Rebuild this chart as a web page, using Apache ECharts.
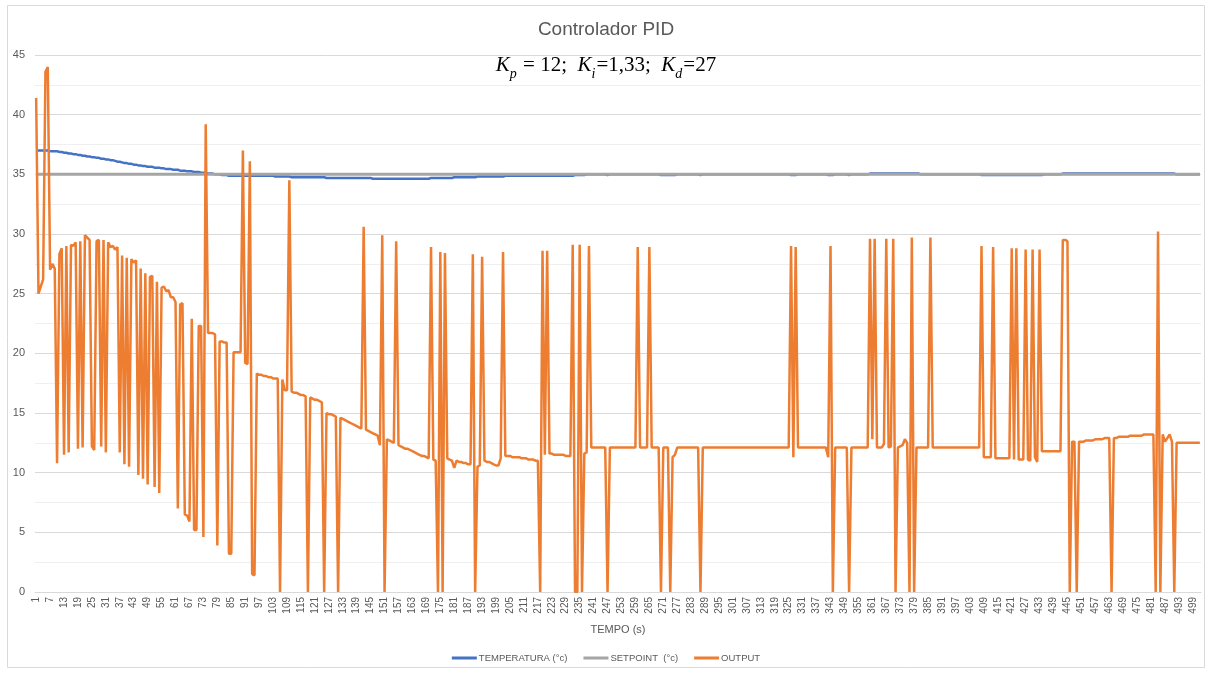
<!DOCTYPE html>
<html>
<head>
<meta charset="utf-8">
<script src="https://cdn.jsdelivr.net/npm/echarts@6/dist/echarts.min.js"></script>
<style>
  html, body { margin: 0; padding: 0; background: #fff; }
  #container { width: 1212px; height: 673px; }
</style>
</head>
<body>
<div id="container"></div>
<script>
// OUTPUT do controlador, um valor por segundo (10 por linha)
var OUTPUT = [
  41.4, 25.0, 25.6, 26.2, 43.6, 44.0, 27.0, 27.5, 27.1, 10.8,
  28.3, 28.8, 11.5, 29.0, 11.7, 29.1, 29.0, 29.3, 12.0, 29.4,
  12.1, 29.9, 29.7, 29.5, 12.2, 11.9, 29.4, 29.5, 12.2, 29.5,
  11.7, 29.3, 28.9, 29.0, 28.7, 28.9, 11.7, 28.2, 10.7, 28.0,
  10.5, 27.9, 27.6, 27.8, 9.8, 27.1, 9.5, 26.7, 9.0, 26.4,
  26.5, 8.8, 26.0, 8.3, 25.5, 25.6, 25.2, 25.3, 24.7, 24.7,
  24.3, 7.0, 24.1, 24.2, 6.5, 6.4, 5.9, 22.9, 5.2, 5.2,
  22.3, 22.3, 4.6, 39.2, 21.7, 21.7, 21.7, 21.6, 3.9, 21.0,
  21.0, 20.9, 20.9, 3.2, 3.2, 20.1, 20.1, 20.1, 20.1, 37.0,
  19.2, 19.1, 36.1, 1.5, 1.4, 18.3, 18.2, 18.2, 18.1, 18.1,
  18.0, 18.0, 17.9, 17.9, 17.9, 0, 17.8, 16.9, 16.9, 34.5,
  16.8, 16.7, 16.7, 16.6, 16.5, 16.5, 16.4, 0, 16.3, 16.2,
  16.1, 16.1, 16.0, 15.9, 0, 15.0, 14.9, 14.9, 14.8, 14.7,
  0, 14.6, 14.5, 14.4, 14.3, 14.2, 14.1, 14.0, 13.9, 13.8,
  13.7, 30.6, 13.6, 13.5, 13.4, 13.3, 13.2, 13.1, 12.3, 29.9,
  0, 12.8, 12.7, 12.6, 12.5, 29.4, 12.3, 12.2, 12.1, 12.0,
  12.0, 11.9, 11.8, 11.7, 11.6, 11.5, 11.4, 11.4, 11.3, 11.2,
  28.9, 11.1, 11.0, 0, 28.5, 0, 28.4, 11.2, 11.1, 11.0,
  10.4, 11.0, 10.9, 10.9, 10.8, 10.8, 10.7, 10.7, 28.3, 0,
  10.5, 10.6, 28.1, 11.0, 10.9, 10.9, 10.8, 10.7, 10.6, 10.6,
  11.2, 28.5, 11.4, 11.4, 11.4, 11.3, 11.3, 11.3, 11.3, 11.2,
  11.2, 11.2, 11.1, 11.1, 11.1, 11.0, 11.0, 0, 28.6, 11.5,
  28.6, 11.6, 11.6, 11.5, 11.5, 11.5, 11.5, 11.5, 11.4, 11.4,
  11.4, 29.1, 0, 0, 29.1, 0, 11.6, 11.7, 29.0, 12.1,
  12.1, 12.1, 12.1, 12.1, 12.1, 12.1, 0, 12.1, 12.1, 12.1,
  12.1, 12.1, 12.1, 12.1, 12.1, 12.1, 12.1, 12.1, 12.1, 28.9,
  12.1, 12.1, 12.1, 12.1, 28.9, 12.1, 12.1, 12.1, 12.1, 0,
  12.1, 12.1, 12.1, 0, 11.3, 11.5, 12.1, 12.1, 12.1, 12.1,
  12.1, 12.1, 12.1, 12.1, 12.1, 12.1, 0, 12.1, 12.1, 12.1,
  12.1, 12.1, 12.1, 12.1, 12.1, 12.1, 12.1, 12.1, 12.1, 12.1,
  12.1, 12.1, 12.1, 12.1, 12.1, 12.1, 12.1, 12.1, 12.1, 12.1,
  12.1, 12.1, 12.1, 12.1, 12.1, 12.1, 12.1, 12.1, 12.1, 12.1,
  12.1, 12.1, 12.1, 12.1, 12.1, 29.0, 11.3, 28.9, 12.1, 12.1,
  12.1, 12.1, 12.1, 12.1, 12.1, 12.1, 12.1, 12.1, 12.1, 12.1,
  12.1, 11.3, 29.0, 0, 12.1, 12.1, 12.1, 12.1, 12.1, 12.1,
  0, 12.1, 12.1, 12.1, 12.1, 12.1, 12.1, 12.1, 12.1, 29.6,
  12.8, 29.6, 12.1, 12.1, 12.1, 12.4, 29.6, 12.1, 12.2, 29.6,
  0, 12.1, 12.2, 12.3, 12.8, 12.5, 0, 29.7, 0, 12.1,
  12.1, 12.1, 12.1, 12.1, 12.1, 29.7, 12.1, 12.1, 12.1, 12.1,
  12.1, 12.1, 12.1, 12.1, 12.1, 12.1, 12.1, 12.1, 12.1, 12.1,
  12.1, 12.1, 12.1, 12.1, 12.1, 12.1, 12.1, 29.0, 11.3, 11.3,
  11.3, 11.3, 28.9, 11.2, 11.2, 11.2, 11.2, 11.2, 11.2, 11.2,
  28.8, 11.1, 28.8, 11.1, 11.1, 11.1, 28.7, 11.1, 11.0, 28.7,
  11.3, 10.9, 28.7, 11.8, 11.8, 11.8, 11.8, 11.8, 11.8, 11.8,
  11.8, 11.8, 29.5, 29.5, 29.4, 0, 12.6, 12.6, 0, 12.6,
  12.6, 12.6, 12.7, 12.7, 12.7, 12.7, 12.8, 12.8, 12.8, 12.8,
  12.9, 12.9, 12.9, 0, 12.9, 12.9, 13.0, 13.0, 13.0, 13.0,
  13.0, 13.1, 13.1, 13.1, 13.1, 13.1, 13.1, 13.2, 13.2, 13.2,
  13.2, 13.2, 0, 30.2, 0, 13.2, 12.6, 12.9, 13.2, 12.6,
  0, 12.5, 12.5, 12.5, 12.5, 12.5, 12.5, 12.5, 12.5, 12.5,
  12.5, 12.5
];

// TEMPERATURA (°c): leituras do sensor em patamares [valor, quantos segundos]
var TEMP_STEPS = [
  [37.00, 6], [36.94, 4], [36.88, 2], [36.81, 2], [36.75, 2], [36.69, 2],
  [36.63, 2], [36.56, 2], [36.50, 2], [36.44, 2], [36.38, 2], [36.31, 2],
  [36.25, 2], [36.19, 2], [36.13, 1], [36.06, 2], [36.00, 1], [35.94, 2],
  [35.88, 2], [35.81, 2], [35.75, 2], [35.69, 2], [35.63, 3], [35.56, 3],
  [35.50, 2], [35.44, 3], [35.38, 3], [35.31, 3], [35.25, 3], [35.19, 3],
  [35.13, 3], [35.06, 3], [35.00, 3], [34.94, 3], [34.88, 20], [34.81, 7],
  [34.75, 15], [34.69, 20], [34.63, 25], [34.69, 10], [34.75, 10], [34.81, 12],
  [34.88, 30], [34.94, 5], [35.00, 9], [34.94, 1], [35.00, 22], [34.94, 7],
  [35.00, 10], [34.94, 1], [35.00, 38], [34.94, 3], [35.00, 13], [34.94, 3],
  [35.00, 6], [34.94, 1], [35.00, 8], [35.06, 22], [35.00, 26], [34.94, 27],
  [35.00, 8], [35.06, 49], [35.00, 11]
];

var SETPOINT = 35;

var TEMPO = OUTPUT.map(function (v, i) { return String(i + 1); });

var temperatura = [];
TEMP_STEPS.forEach(function (s) {
    for (var k = 0; k < s[1]; k++) temperatura.push(s[0]);
});
var setpoint = TEMPO.map(function () { return SETPOINT; });

var dom = document.getElementById('container');
var myChart = echarts.init(dom);

var txt = '#595959';
var font = 'Liberation Sans';
var serif = 'Liberation Serif';

option = {
    animation: false,
    textStyle: { fontFamily: font },
    title: [
        {
            text: 'Controlador PID',
            left: 'center',
            top: 15,
            textStyle: { fontSize: 19, fontWeight: 'normal', color: txt, fontFamily: font }
        },
        {
            text: '{k|K}{s|p}{n| = 12;  }{k|K}{s|i}{n|=1,33;  }{k|K}{s|d}{n|=27}',
            left: 'center',
            top: 50,
            textStyle: {
                fontWeight: 'normal',
                rich: {
                    k: { fontFamily: serif, fontStyle: 'italic', fontWeight: 'normal', fontSize: 21, color: '#000', verticalAlign: 'bottom', padding: [0, 0, 5, 0] },
                    s: { fontFamily: serif, fontStyle: 'italic', fontWeight: 'normal', fontSize: 14, color: '#000', verticalAlign: 'bottom', padding: [0, 1, 0, 0] },
                    n: { fontFamily: serif, fontWeight: 'normal', fontSize: 21, color: '#000', verticalAlign: 'bottom', padding: [0, 0, 5, 0] }
                }
            }
        }
    ],
    legend: {
        top: 648,
        left: 'center',
        icon: 'rect',
        itemWidth: 25,
        itemHeight: 3,
        itemGap: 16,
        textStyle: { fontSize: 9.5, color: txt, fontFamily: font, padding: [0, 0, 0, -3] },
        data: ['TEMPERATURA (°c)', 'SETPOINT  (°c)', 'OUTPUT']
    },
    grid: { left: 35, right: 11, top: 55, bottom: 81 },
    xAxis: {
        type: 'category',
        data: TEMPO,
        boundaryGap: true,
        name: 'TEMPO (s)',
        nameLocation: 'middle',
        nameGap: 32,
        nameTextStyle: { fontSize: 11, color: txt },
        axisLine: { lineStyle: { color: '#d9d9d9' } },
        axisTick: { show: false },
        axisLabel: { interval: 5, rotate: 90, fontSize: 10, color: txt, margin: 5 },
        splitLine: { show: false }
    },
    yAxis: {
        type: 'value',
        min: 0,
        max: 45,
        interval: 5,
        axisLine: { show: false },
        axisTick: { show: false },
        axisLabel: { fontSize: 11, color: txt, margin: 10 },
        splitLine: { lineStyle: { color: '#d9d9d9' } },
        minorTick: { show: false, splitNumber: 2 },
        minorSplitLine: { show: true, lineStyle: { color: '#efefef' } }
    },
    series: [
        {
            name: 'TEMPERATURA (°c)',
            type: 'line',
            data: temperatura,
            symbol: 'none',
            lineStyle: { color: '#4472C4', width: 2.5 },
            itemStyle: { color: '#4472C4' }
        },
        {
            name: 'SETPOINT  (°c)',
            type: 'line',
            data: setpoint,
            symbol: 'none',
            lineStyle: { color: '#A5A5A5', width: 3 },
            itemStyle: { color: '#A5A5A5' }
        },
        {
            name: 'OUTPUT',
            type: 'line',
            data: OUTPUT,
            symbol: 'none',
            lineStyle: { color: '#ED7D31', width: 2.5 },
            itemStyle: { color: '#ED7D31' }
        }
    ],
    graphic: [
        {
            type: 'rect',
            silent: true,
            shape: { x: 7.5, y: 5.5, width: 1197, height: 662 },
            style: { fill: 'none', stroke: '#d9d9d9', lineWidth: 1 }
        }
    ]
};

myChart.setOption(option);
</script>
</body>
</html>
